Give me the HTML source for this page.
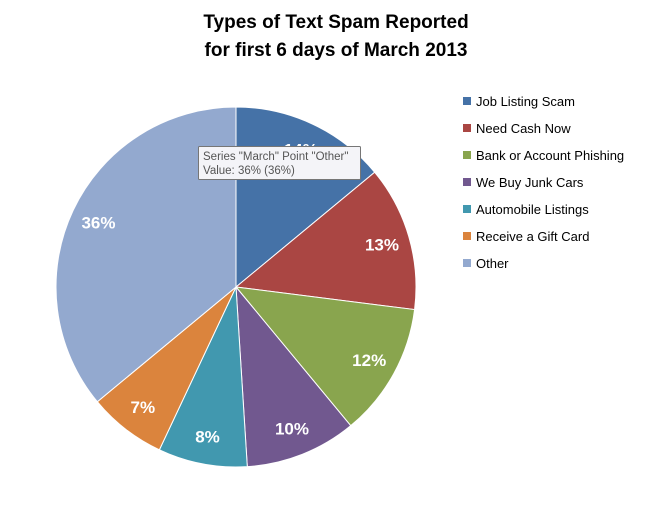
<!DOCTYPE html>
<html><head><meta charset="utf-8">
<style>
body{margin:0;background:#fff;width:672px;height:505px;overflow:hidden;font-family:"Liberation Sans",sans-serif}
</style></head>
<body>
<svg width="672" height="505" id="chart">
<text x="336" y="28" text-anchor="middle" font-size="19" font-weight="bold" fill="#000">Types of Text Spam Reported</text>
<text x="336" y="56" text-anchor="middle" font-size="19" font-weight="bold" fill="#000">for first 6 days of March 2013</text>
<g id="slices"></g>
<g id="labels"></g>
<g id="legend"></g>
<g>
<rect x="198.5" y="146.5" width="162" height="33" fill="#f4f4f8" stroke="#767676" rx="1"/>
<text x="203" y="160" font-size="11.5" fill="#555">Series "March" Point "Other"</text>
<text x="203" y="174" font-size="11.5" fill="#555">Value: 36% (36%)</text>
</g>
</svg>
<script>
const categories=["Job Listing Scam","Need Cash Now","Bank or Account Phishing","We Buy Junk Cars","Automobile Listings","Receive a Gift Card","Other"];
const values=[14,13,12,10,8,7,36];
const colors=["#4572a7","#aa4643","#89a54e","#71588f","#4198af","#db843d","#93a9cf"];
const NS="http://www.w3.org/2000/svg";
const cx=236,cy=287,R=180;
const total=values.reduce((a,b)=>a+b,0);
function pt(a,r){return [cx+r*Math.sin(a),cy-r*Math.cos(a)];}
let acc=0;
const sg=document.getElementById('slices'),lg=document.getElementById('labels'),leg=document.getElementById('legend');
values.forEach((v,i)=>{
  const a0=acc/total*2*Math.PI; acc+=v; const a1=acc/total*2*Math.PI;
  const p0=pt(a0,R),p1=pt(a1,R);
  const path=document.createElementNS(NS,'path');
  path.setAttribute('d',`M${cx},${cy}L${p0[0]},${p0[1]}A${R},${R} 0 ${a1-a0>Math.PI?1:0} 1 ${p1[0]},${p1[1]}Z`);
  path.setAttribute('fill',colors[i]);
  path.setAttribute('stroke','#fff');
  path.setAttribute('stroke-width','1');
  
  
  sg.appendChild(path);
  const m=(a0+a1)/2, lp=pt(m,152);
  const t=document.createElementNS(NS,'text');
  t.setAttribute('x',lp[0]);t.setAttribute('y',lp[1]+6);
  t.setAttribute('text-anchor','middle');t.setAttribute('font-size','17');t.setAttribute('font-weight','bold');t.setAttribute('fill','#fff');
  t.textContent=v+'%';
  
  
  lg.appendChild(t);
  const g=document.createElementNS(NS,'g');
  
  
  const r=document.createElementNS(NS,'rect');
  r.setAttribute('x',463);r.setAttribute('y',97+i*27);r.setAttribute('width',8);r.setAttribute('height',8);r.setAttribute('fill',colors[i]);
  const lt=document.createElementNS(NS,'text');
  lt.setAttribute('x',476);lt.setAttribute('y',106+i*27);lt.setAttribute('font-size','13');lt.setAttribute('fill','#000');
  lt.textContent=categories[i];
  g.appendChild(r);g.appendChild(lt);leg.appendChild(g);
});
</script>
</body></html>
